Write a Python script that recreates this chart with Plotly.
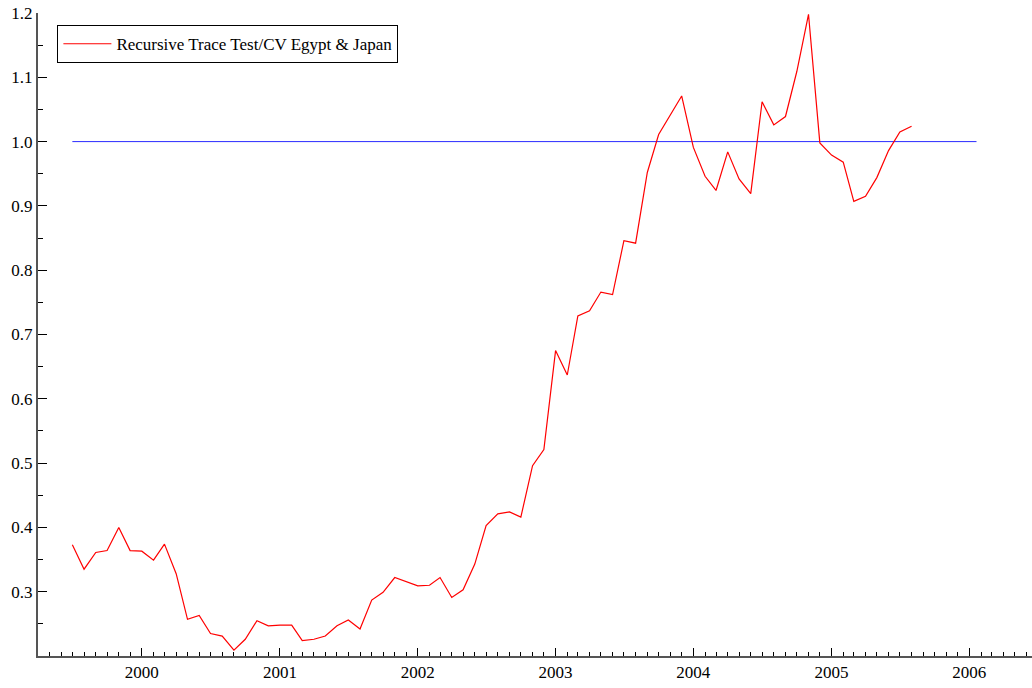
import pandas as pd
import plotly.graph_objects as go

# Monthly observations, July 1999 .. August 2005
start_month = "1999-07-01"
trace_test = [0.373, 0.335, 0.361, 0.364, 0.400, 0.364, 0.363, 0.349, 0.374, 0.328,
              0.257, 0.263, 0.235, 0.231, 0.209, 0.226, 0.255, 0.247, 0.248, 0.248,
              0.224, 0.226, 0.231, 0.247, 0.256, 0.242, 0.287, 0.299, 0.322, 0.316,
              0.309, 0.310, 0.322, 0.291, 0.303, 0.343, 0.403, 0.421, 0.424, 0.416,
              0.496, 0.521, 0.675, 0.637, 0.729, 0.737, 0.766, 0.762, 0.846, 0.842,
              0.952, 1.011, 1.041, 1.071, 0.991, 0.946, 0.924, 0.984, 0.942, 0.919,
              1.062, 1.026, 1.039, 1.109, 1.198, 0.998, 0.979, 0.968, 0.907, 0.915,
              0.944, 0.986, 1.015, 1.024]
dates = pd.date_range(start_month, periods=len(trace_test), freq="MS")

ref_x = ["1999-07-01", "2006-01-20"]
ref_y = [1.0, 1.0]

series_name = "Recursive Trace Test/CV Egypt & Japan"
y_ticks = [0.3, 0.4, 0.5, 0.6, 0.7, 0.8, 0.9, 1.0, 1.1, 1.2]
y_tick_text = ["0.3", "0.4", "0.5", "0.6", "0.7", "0.8", "0.9", "1.0", "1.1", "1.2"]
x_ticks = ["2000-01-01", "2001-01-01", "2002-01-01", "2003-01-01",
           "2004-01-01", "2005-01-01", "2006-01-01"]
x_tick_text = ["2000", "2001", "2002", "2003", "2004", "2005", "2006"]

fig = go.Figure()
fig.add_trace(go.Scatter(x=ref_x, y=ref_y, mode="lines",
                         line=dict(color="#2b2bff", width=1),
                         showlegend=False, hoverinfo="skip"))
fig.add_trace(go.Scatter(x=dates, y=trace_test, mode="lines",
                         line=dict(color="#ff0000", width=1.2),
                         name=series_name))

font_family = "Liberation Serif, Times New Roman, serif"
fig.update_layout(
    width=1032, height=688,
    margin=dict(l=38, r=0, t=13, b=32),
    paper_bgcolor="white", plot_bgcolor="white",
    font=dict(family=font_family, size=17, color="black"),
    showlegend=True,
    legend=dict(x=0.0195, y=0.981, xanchor="left", yanchor="top",
                bordercolor="black", borderwidth=1, bgcolor="white",
                itemwidth=48,
                font=dict(family=font_family, size=17, color="black")),
    xaxis=dict(
        type="date",
        range=["1999-04-01", "2006-06-16"],
        showgrid=False, zeroline=False,
        showline=True, linecolor="#555555", linewidth=2,
        tickmode="array", tickvals=x_ticks, ticktext=x_tick_text,
        ticks="inside", ticklen=8, tickwidth=1, tickcolor="black",
        minor=dict(dtick="M1", tick0="2000-01-01", ticks="inside", ticklen=4,
                   tickwidth=1, tickcolor="black", showgrid=False),
        tickfont=dict(family=font_family, size=17, color="black"),
    ),
    yaxis=dict(
        range=[0.2, 1.2],
        showgrid=False, zeroline=False,
        showline=True, linecolor="#555555", linewidth=2,
        tickmode="array", tickvals=y_ticks, ticktext=y_tick_text,
        ticks="inside", ticklen=9, tickwidth=1, tickcolor="black",
        minor=dict(dtick=0.05, tick0=0.25, ticks="inside", ticklen=5,
                   tickwidth=1, tickcolor="black", showgrid=False),
        tickfont=dict(family=font_family, size=17, color="black"),
    ),
)

fig.write_html("out.html", config={"displayModeBar": False},
               post_script="document.body.style.margin='0';")
